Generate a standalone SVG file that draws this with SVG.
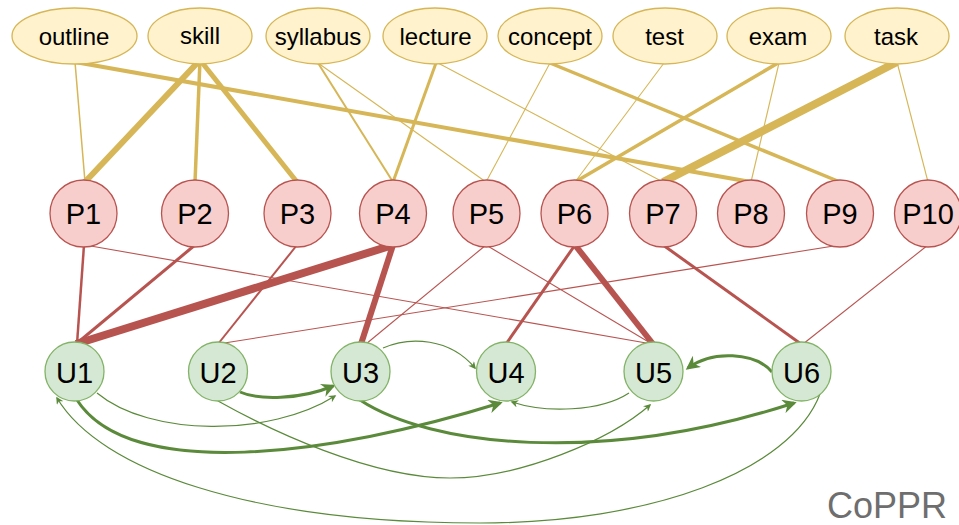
<svg xmlns="http://www.w3.org/2000/svg" width="959" height="525" viewBox="0 0 959 525">
  <defs>
    <style>
      .lbl { font-family: "Liberation Sans", Arial, Helvetica, sans-serif; fill: #000; text-anchor: middle; }
      .kw ellipse { fill: #fff2cc; stroke: #d6b656; stroke-width: 1.3; }
      .kw text { font-size: 24px; }
      .pn circle { fill: #f8cecc; stroke: #b85450; stroke-width: 1.3; }
      .un circle { fill: #d5e8d4; stroke: #82b366; stroke-width: 1.3; }
      .pn text, .un text { font-size: 29px; }
      .ye { stroke: #d6b656; fill: none; }
      .re { stroke: #b85450; fill: none; }
      .ge { stroke: #5a8a3a; fill: none; }
      .thin { stroke-width: 1.1; }
      .big { stroke-width: 3; marker-end: url(#headL); }
      .small { stroke-width: 1.2; marker-end: url(#headS); }
    </style>
    <marker id="headL" viewBox="0 0 10 10" refX="8" refY="5" markerWidth="16" markerHeight="14" markerUnits="userSpaceOnUse" orient="auto">
      <path d="M0,0 L10,5 L0,10 L3,5 Z" fill="#5a8a3a"/>
    </marker>
    <marker id="headS" viewBox="0 0 10 10" refX="8" refY="5" markerWidth="9" markerHeight="7.5" markerUnits="userSpaceOnUse" orient="auto">
      <path d="M0,0 L10,5 L0,10 L3,5 Z" fill="#5a8a3a"/>
    </marker>
  </defs>

  <g id="connectors">
    <!-- keyword to P links -->
    <line class="ye" x1="75" y1="62" x2="85" y2="182" stroke-width="1.5"/>
    <line class="ye" x1="75" y1="62" x2="751" y2="182" stroke-width="4"/>
    <line class="ye" x1="200" y1="60" x2="85" y2="182" stroke-width="6"/>
    <line class="ye" x1="200" y1="60" x2="195" y2="182" stroke-width="3.5"/>
    <line class="ye" x1="200" y1="60" x2="297" y2="182" stroke-width="5"/>
    <line class="ye" x1="318" y1="63" x2="393" y2="182" stroke-width="2"/>
    <line class="ye thin" x1="318" y1="63" x2="486" y2="182"/>
    <line class="ye" x1="436" y1="63" x2="393" y2="182" stroke-width="3"/>
    <line class="ye thin" x1="438" y1="63" x2="663" y2="182"/>
    <line class="ye thin" x1="550" y1="63" x2="486" y2="182"/>
    <line class="ye" x1="550" y1="63" x2="840" y2="182" stroke-width="3.5"/>
    <line class="ye thin" x1="664" y1="63" x2="575" y2="182"/>
    <line class="ye" x1="778" y1="63" x2="575" y2="182" stroke-width="3.5"/>
    <line class="ye thin" x1="779" y1="63" x2="751" y2="182"/>
    <line class="ye" x1="897" y1="62" x2="663" y2="182" stroke-width="8"/>
    <line class="ye thin" x1="897" y1="62" x2="928" y2="182"/>

    <!-- P to U links -->
    <line class="re" x1="84" y1="245" x2="77" y2="344" stroke-width="2.5"/>
    <line class="re thin" x1="85" y1="245" x2="652" y2="344"/>
    <line class="re" x1="195" y1="245" x2="76" y2="344" stroke-width="3"/>
    <line class="re" x1="297" y1="245" x2="218" y2="344" stroke-width="2"/>
    <line class="re" x1="393" y1="245" x2="76" y2="344" stroke-width="8"/>
    <line class="re" x1="393" y1="245" x2="361" y2="344" stroke-width="6"/>
    <line class="re thin" x1="486" y1="245" x2="366" y2="344"/>
    <line class="re thin" x1="486" y1="245" x2="652" y2="344"/>
    <line class="re" x1="575" y1="245" x2="506" y2="344" stroke-width="3"/>
    <line class="re" x1="575" y1="245" x2="653" y2="344" stroke-width="6"/>
    <line class="re" x1="663" y1="245" x2="801" y2="344" stroke-width="3"/>
    <line class="re thin" x1="840" y1="245" x2="218" y2="344"/>
    <line class="re thin" x1="928" y1="245" x2="803" y2="344"/>

    <!-- U to U arrows -->
    <path class="ge big" d="M240,392 C258,400 300,400 333,386"/>
    <path class="ge small" d="M97,393 C150,437 270,437 335,396"/>
    <path class="ge big" d="M77,400 C130,482 330,456 500,403"/>
    <path class="ge big" d="M360,400 C430,446 600,466 794,403"/>
    <path class="ge small" d="M383,348 C410,336 450,338 475,368"/>
    <path class="ge small" d="M629,393 C600,412 545,413 512,402"/>
    <path class="ge small" d="M218,401 C270,430 370,478 450,478 C520,478 610,440 650,405"/>
    <path class="ge big" d="M772,372 C755,352 712,350 688,368"/>
    <path class="ge small" d="M820,394 C790,472 650,523 480,523 C250,523 100,470 57,398"/>
  </g>

  <g id="outline" class="kw"><ellipse cx="74.5" cy="36" rx="62.5" ry="28"/><text class="lbl" x="74" y="45">outline</text></g>
  <g id="skill" class="kw"><ellipse cx="200" cy="36" rx="52" ry="28"/><text class="lbl" x="200" y="44">skill</text></g>
  <g id="syllabus" class="kw"><ellipse cx="318" cy="36" rx="52" ry="28"/><text class="lbl" x="318" y="45">syllabus</text></g>
  <g id="lecture" class="kw"><ellipse cx="435" cy="36" rx="52" ry="28"/><text class="lbl" x="435.5" y="45">lecture</text></g>
  <g id="concept" class="kw"><ellipse cx="550" cy="36" rx="52" ry="28"/><text class="lbl" x="550" y="45">concept</text></g>
  <g id="test" class="kw"><ellipse cx="665" cy="36" rx="52" ry="28"/><text class="lbl" x="664.5" y="45">test</text></g>
  <g id="exam" class="kw"><ellipse cx="779" cy="36" rx="52" ry="28"/><text class="lbl" x="778" y="45">exam</text></g>
  <g id="task" class="kw"><ellipse cx="897" cy="36" rx="52" ry="28"/><text class="lbl" x="896" y="45">task</text></g>

  <g id="P1" class="pn"><circle cx="83.5" cy="213.5" r="33.5"/><text class="lbl" x="83.5" y="224">P1</text></g>
  <g id="P2" class="pn"><circle cx="195" cy="213.5" r="33.5"/><text class="lbl" x="195" y="224">P2</text></g>
  <g id="P3" class="pn"><circle cx="297.5" cy="213.5" r="33.5"/><text class="lbl" x="297.5" y="224">P3</text></g>
  <g id="P4" class="pn"><circle cx="393" cy="213.5" r="33.5"/><text class="lbl" x="393" y="224">P4</text></g>
  <g id="P5" class="pn"><circle cx="486.5" cy="213.5" r="33.5"/><text class="lbl" x="486.5" y="224">P5</text></g>
  <g id="P6" class="pn"><circle cx="574.5" cy="213.5" r="33.5"/><text class="lbl" x="574.5" y="224">P6</text></g>
  <g id="P7" class="pn"><circle cx="663" cy="213.5" r="33.5"/><text class="lbl" x="663" y="224">P7</text></g>
  <g id="P8" class="pn"><circle cx="751" cy="213.5" r="33.5"/><text class="lbl" x="751" y="224">P8</text></g>
  <g id="P9" class="pn"><circle cx="840" cy="213.5" r="33.5"/><text class="lbl" x="840" y="224">P9</text></g>
  <g id="P10" class="pn"><circle cx="928" cy="213.5" r="33.5"/><text class="lbl" x="928" y="224">P10</text></g>

  <g id="U1" class="un"><circle cx="74.5" cy="371.5" r="29.5"/><text class="lbl" x="74.5" y="382.5">U1</text></g>
  <g id="U2" class="un"><circle cx="218" cy="371.5" r="29.5"/><text class="lbl" x="218" y="382.5">U2</text></g>
  <g id="U3" class="un"><circle cx="360.5" cy="371.5" r="29.5"/><text class="lbl" x="360.5" y="382.5">U3</text></g>
  <g id="U4" class="un"><circle cx="506" cy="371.5" r="29.5"/><text class="lbl" x="506" y="382.5">U4</text></g>
  <g id="U5" class="un"><circle cx="653.5" cy="371.5" r="29.5"/><text class="lbl" x="653.5" y="382.5">U5</text></g>
  <g id="U6" class="un"><circle cx="801.5" cy="371.5" r="29.5"/><text class="lbl" x="801.5" y="382.5">U6</text></g>

  <text x="887" y="518" font-family="Liberation Sans, Arial, sans-serif" font-size="36" fill="#6e6e6e" text-anchor="middle">CoPPR</text>
</svg>
